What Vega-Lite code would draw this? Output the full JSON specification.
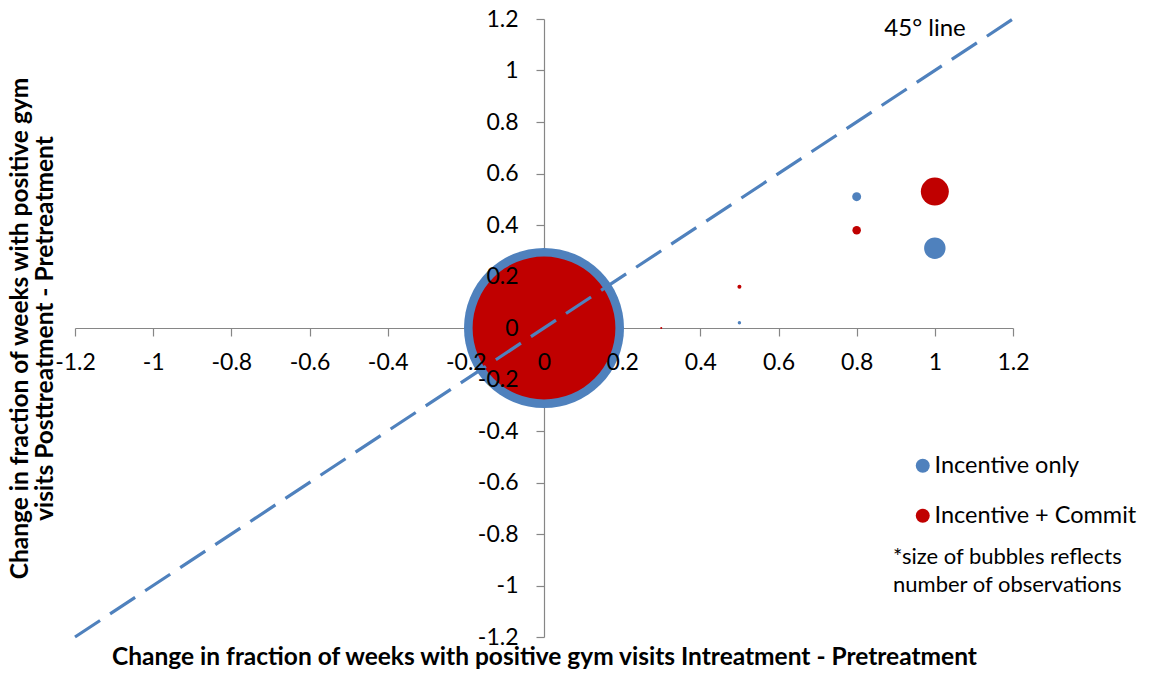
{
  "$schema": "https://vega.github.io/schema/vega-lite/v6.json",
  "width": 938,
  "height": 618,
  "autosize": {"type": "none"},
  "padding": {"left": 75, "top": 19, "right": 139, "bottom": 36},
  "background": "white",
  "config": {"view": {"stroke": null}, "font": "Lato"},
  "datasets": {
    "bubbles": [
      {"group": "Incentive only", "dx": 0, "dy": 0, "obs": 6400},
      {"group": "Incentive only", "dx": 0.5, "dy": 0.02, "obs": 3},
      {"group": "Incentive only", "dx": 0.8, "dy": 0.51, "obs": 20},
      {"group": "Incentive only", "dx": 1.0, "dy": 0.31, "obs": 115},
      {"group": "Incentive + Commit", "dx": 0, "dy": 0, "obs": 5100},
      {"group": "Incentive + Commit", "dx": 0.3, "dy": 0.0, "obs": 1},
      {"group": "Incentive + Commit", "dx": 0.5, "dy": 0.16, "obs": 4},
      {"group": "Incentive + Commit", "dx": 0.8, "dy": 0.38, "obs": 18},
      {"group": "Incentive + Commit", "dx": 1.0, "dy": 0.53, "obs": 196}
    ],
    "line45": [
      {"x": -1.2, "y": -1.2},
      {"x": 1.2, "y": 1.2}
    ]
  },
  "layer": [
    {
      "data": {"name": "bubbles"},
      "mark": {"type": "circle", "opacity": 1},
      "encoding": {
        "x": {
          "field": "dx", "type": "quantitative",
          "scale": {"domain": [-1.2, 1.2], "nice": false, "zero": false},
          "axis": {
            "orient": "bottom", "offset": -309, "title": null,
            "values": [-1.2, -1, -0.8, -0.6, -0.4, -0.2, 0, 0.2, 0.4, 0.6, 0.8, 1, 1.2],
            "labels": false, "grid": false, "domain": true, "domainColor": "#868686", "domainWidth": 1.2,
            "ticks": true, "tickColor": "#868686", "tickSize": 8, "tickWidth": 1.2, "zindex": 0
          }
        },
        "y": {
          "field": "dy", "type": "quantitative",
          "scale": {"domain": [-1.2, 1.2], "nice": false, "zero": false},
          "axis": {
            "orient": "left", "offset": -469, "title": null,
            "values": [-1.2, -1, -0.8, -0.6, -0.4, -0.2, 0, 0.2, 0.4, 0.6, 0.8, 1, 1.2],
            "labels": false, "grid": false, "domain": true, "domainColor": "#868686", "domainWidth": 1.2,
            "ticks": true, "tickColor": "#868686", "tickSize": 8, "tickWidth": 1.2, "zindex": 0
          }
        },
        "color": {
          "field": "group", "type": "nominal",
          "scale": {"domain": ["Incentive only", "Incentive + Commit"], "range": ["#4F81BD", "#C00000"]},
          "legend": {
            "orient": "none", "legendX": 818, "legendY": 435,
            "title": ["*size of bubbles reflects", "number of observations"],
            "titleOrient": "bottom", "titleAnchor": "start", "titleFontSize": 22, "titleFontWeight": "normal",
            "titleColor": "black", "titleLineHeight": 28, "titlePadding": 20, "titleLimit": 400,
            "labelFontSize": 23.5, "labelColor": "black", "labelLimit": 400, "labelOffset": 0,
            "symbolType": "circle", "symbolSize": 196, "symbolOffset": 18, "symbolStrokeWidth": 0,
            "rowPadding": 25, "padding": 0
          }
        },
        "size": {
          "field": "obs", "type": "quantitative",
          "scale": {"type": "linear", "domain": [0, 6400], "range": [0, 25600]},
          "legend": null
        }
      }
    },
    {
      "data": {"name": "line45"},
      "mark": {"type": "line", "strokeDash": [30, 12], "strokeWidth": 3.2, "color": "#4F81BD"},
      "encoding": {
        "x": {
          "field": "x", "type": "quantitative",
          "axis": {
            "orient": "bottom", "offset": -309,
            "title": "Change in fraction of weeks with positive gym visits Intreatment - Pretreatment",
            "titleX": 469, "titleY": 329, "titleAlign": "center", "titleBaseline": "middle",
            "titleFontSize": 24.5, "titleFontWeight": "bold", "titleColor": "black", "titleLimit": 1100,
            "values": [-1.2, -1, -0.8, -0.6, -0.4, -0.2, 0, 0.2, 0.4, 0.6, 0.8, 1, 1.2],
            "labelExpr": "'' + datum.value", "labelFontSize": 23, "labelColor": "black",
            "labelFlush": false, "labelOverlap": false, "labelPadding": 15,
            "domain": false, "ticks": true, "tickOpacity": 0, "tickSize": 8, "grid": false, "zindex": 1
          }
        },
        "y": {
          "field": "y", "type": "quantitative",
          "axis": {
            "orient": "left", "offset": -469,
            "title": ["Change in fraction of weeks with positive gym", "visits Posttreatment - Pretreatment"],
            "titleX": -524, "titleY": 309, "titleAlign": "center", "titleBaseline": "middle", "titleAngle": -90,
            "titleFontSize": 24.5, "titleFontWeight": "bold", "titleColor": "black", "titleLineHeight": 25,
            "titleLimit": 800,
            "values": [-1.2, -1, -0.8, -0.6, -0.4, -0.2, 0, 0.2, 0.4, 0.6, 0.8, 1, 1.2],
            "labelExpr": "'' + datum.value", "labelFontSize": 23, "labelColor": "black",
            "labelFlush": false, "labelOverlap": false, "labelPadding": 18,
            "domain": false, "ticks": true, "tickOpacity": 0, "tickSize": 8, "grid": false, "zindex": 1
          }
        }
      }
    },
    {
      "data": {"values": [{"label": "45° line"}]},
      "mark": {"type": "text", "fontSize": 24, "color": "black", "align": "center", "baseline": "middle"},
      "encoding": {
        "x": {"datum": 0.975, "type": "quantitative", "axis": null},
        "y": {"datum": 1.16, "type": "quantitative", "axis": null},
        "text": {"field": "label", "type": "nominal"}
      }
    }
  ],
  "resolve": {"axis": {"x": "independent", "y": "independent"}}
}
